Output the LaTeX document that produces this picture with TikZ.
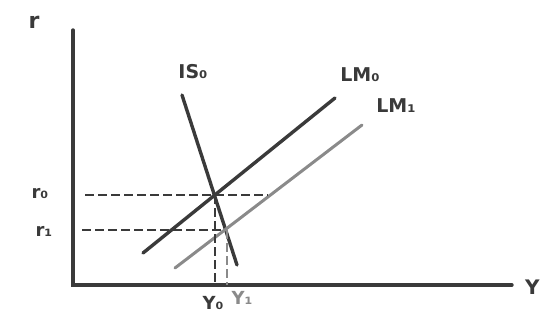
\documentclass[tikz,border=0pt]{standalone}
\usepackage{fontspec}
\setmainfont{DejaVu Sans}
\definecolor{ink}{HTML}{3A3A3A}
\definecolor{inkl}{HTML}{8A8A8A}
\begin{document}
\begin{tikzpicture}[x=1pt,y=-1pt,
  axis/.style={ink,line width=3.4pt,line cap=round},
  curve/.style={ink,line width=3.4pt,line cap=round},
  curvel/.style={inkl,line width=3pt,line cap=round},
  guide/.style={ink,line width=1.6pt,dash pattern=on 9pt off 4pt},
  lab/.style={ink,font=\bfseries\fontsize{18}{18}\selectfont,inner sep=0pt}]
\useasboundingbox (0,0) rectangle (542,325);
% axes
\coordinate (top) at (73,30);
\coordinate (O) at (73,285);
\coordinate (xe) at (512,285);
\draw[axis] (top) -- (O) -- (xe);
\node[lab,font=\bfseries\fontsize{22}{22}\selectfont] (rlab) at (34,22) {r};
\node[lab,anchor=west,font=\bfseries\fontsize{20}{20}\selectfont] (ylab) at (525,287) {Y};
% curves
\coordinate (is1) at (182,95);
\coordinate (is2) at (237,265);
\draw[curve] (is1) -- (is2);
\node[lab,font=\bfseries\fontsize{19}{19}\selectfont] (islab) at (193,72) {IS₀};
\coordinate (lm0a) at (143,253);
\coordinate (lm0b) at (335,98);
\draw[curve] (lm0a) -- (lm0b);
\node[lab,font=\bfseries\fontsize{19}{19}\selectfont] (lm0lab) at (360,75) {LM₀};
\coordinate (lm1a) at (175,268);
\coordinate (lm1b) at (362,125);
\draw[curvel] (lm1a) -- (lm1b);
\node[lab,font=\bfseries\fontsize{19}{19}\selectfont] (lm1lab) at (396,106) {LM₁};
% guides
\coordinate (r0s) at (85,195);
\coordinate (r0e) at (268,195);
\coordinate (r1s) at (82,230);
\coordinate (r1e) at (224,230);
\coordinate (y0t) at (215,195);
\coordinate (y0b) at (215,285);
\coordinate (y1t) at (227,230);
\coordinate (y1b) at (227,285);
\draw[guide] (r0s) -- (r0e);
\draw[guide] (r1s) -- (r1e);
\draw[guide] (y0t) -- (y0b);
\draw[guide,inkl] (y1t) -- (y1b);
\node[lab] (r0lab) at (40,194) {r₀};
\node[lab] (r1lab) at (44,231) {r₁};
\node[lab] (y0lab) at (213,303) {Y₀};
\node[lab,inkl] (y1lab) at (242,298) {Y₁};
\end{tikzpicture}
\end{document}
